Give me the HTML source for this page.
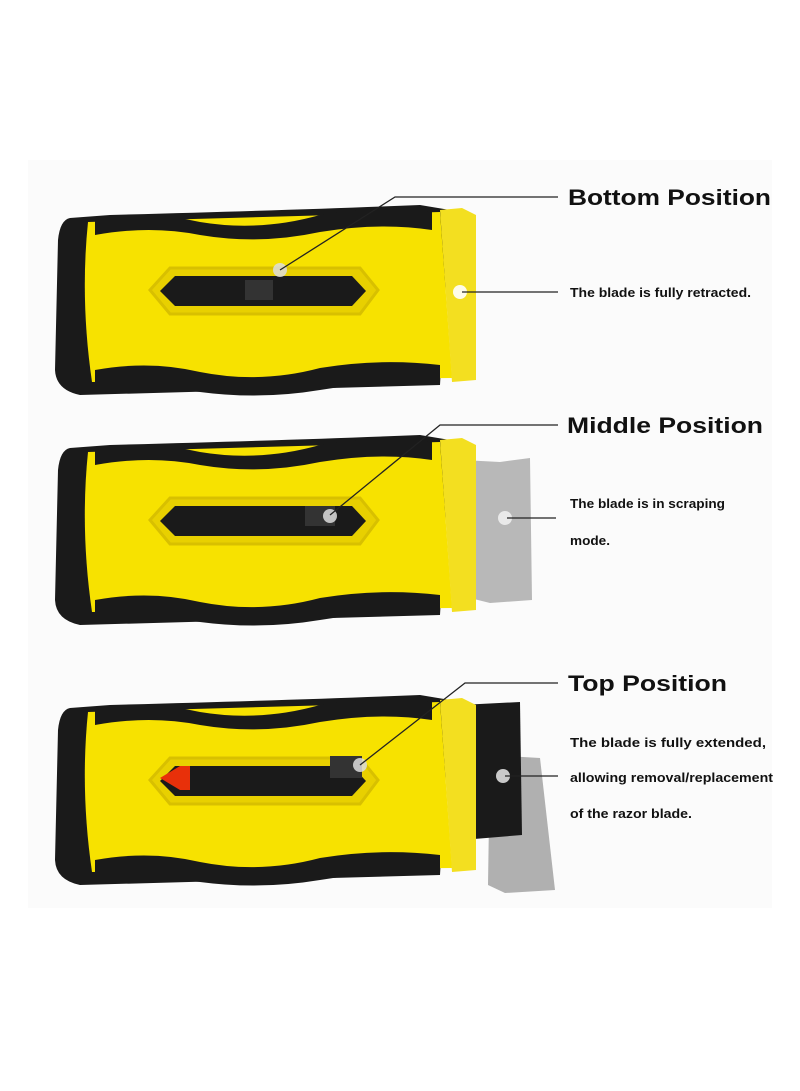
<!DOCTYPE html>
<html><head><meta charset="utf-8"><style>
html,body{margin:0;padding:0;background:#fff}
svg{display:block}
text{font-family:"Liberation Sans",sans-serif;font-weight:bold;fill:#111}
</style></head><body>
<svg width="800" height="1091" viewBox="0 0 800 1091" xmlns="http://www.w3.org/2000/svg">
<rect x="28" y="160" width="744" height="748" fill="#fbfbfb"/>
<defs>
<g id="body">
  <path d="M70 218 Q60 220 58 240 L55 370 Q56 390 80 395 L440 385 L450 210 L420 205 Q300 210 110 215 Z" fill="#1a1a1a"/>
  <path d="M88 222 L440 212 L452 378 L92 382 Q80 300 88 222 Z" fill="#f7e200"/>
  <path d="M95 220 Q150 210 200 222 Q260 232 320 215 Q380 205 432 212 L432 230 Q380 222 320 232 Q260 245 200 235 Q150 225 95 235 Z" fill="#1a1a1a"/>
  <path d="M95 370 Q150 360 200 372 Q260 384 320 368 Q380 358 440 365 L440 385 Q380 380 320 390 Q260 400 200 392 Q150 385 95 394 Z" fill="#1a1a1a"/>
  <path d="M150 290 L170 268 L360 268 L378 290 L360 314 L170 314 Z" fill="#e8d000" stroke="#d8c000" stroke-width="3"/>
  <path d="M160 291 L175 276 L352 276 L366 291 L352 306 L175 306 Z" fill="#1a1a1a"/>
</g>
</defs>
<use href="#body"/>
<path d="M440 210 L462 208 L476 215 L476 380 L452 382 Z" fill="#f3df20"/>
<rect x="245" y="280" width="28" height="20" fill="#333"/>
<circle cx="280" cy="270" r="7" fill="#ddd" opacity=".85"/>
<circle cx="460" cy="292" r="7" fill="#fff" opacity=".9"/>
<path d="M462 460 L500 462 L530 458 L532 600 L490 603 L462 596 Z" fill="#b8b8b8"/>
<g transform="translate(0,230)"><use href="#body"/></g>
<path d="M440 440 L462 438 L476 445 L476 610 L452 612 Z" fill="#f3df20"/>
<rect x="305" y="506" width="30" height="20" fill="#333"/>
<circle cx="330" cy="516" r="7" fill="#ddd" opacity=".85"/>
<circle cx="505" cy="518" r="7" fill="#eee" opacity=".9"/>
<path d="M490 755 L540 758 L555 890 L505 893 L488 885 Z" fill="#b0b0b0"/>
<path d="M460 705 L520 702 L522 835 L462 840 Z" fill="#1a1a1a"/>
<g transform="translate(0,490)"><use href="#body"/></g>
<path d="M440 700 L462 698 L476 705 L476 870 L452 872 Z" fill="#f3df20"/>
<path d="M160 778 L180 766 L190 766 L190 790 L180 790 Z" fill="#e8300a"/>
<rect x="330" y="756" width="32" height="22" fill="#333"/>
<circle cx="360" cy="765" r="7" fill="#ddd" opacity=".85"/>
<circle cx="503" cy="776" r="7" fill="#ddd" opacity=".9"/>
<g stroke="#222" stroke-width="1.3" fill="none">
<polyline points="558,197 395,197 280,270"/>
<line x1="462" y1="292" x2="558" y2="292"/>
<polyline points="558,425 440,425 330,515"/>
<line x1="507" y1="518" x2="556" y2="518"/>
<polyline points="558,683 465,683 360,765"/>
<line x1="505" y1="776" x2="558" y2="776"/>
</g>
<text x="568" y="205" font-size="22" textLength="203" lengthAdjust="spacingAndGlyphs">Bottom Position</text>
<text x="570" y="297" font-size="13" textLength="181" lengthAdjust="spacingAndGlyphs">The blade is fully retracted.</text>
<text x="567" y="433" font-size="22" textLength="196" lengthAdjust="spacingAndGlyphs">Middle Position</text>
<text x="570" y="508" font-size="13" textLength="155" lengthAdjust="spacingAndGlyphs">The blade is in scraping</text>
<text x="570" y="545" font-size="13" textLength="40" lengthAdjust="spacingAndGlyphs">mode.</text>
<text x="568" y="691" font-size="22" textLength="159" lengthAdjust="spacingAndGlyphs">Top Position</text>
<text x="570" y="747" font-size="13" textLength="196" lengthAdjust="spacingAndGlyphs">The blade is fully extended,</text>
<text x="570" y="782" font-size="13" textLength="203" lengthAdjust="spacingAndGlyphs">allowing removal/replacement</text>
<text x="570" y="818" font-size="13" textLength="122" lengthAdjust="spacingAndGlyphs">of the razor blade.</text>
</svg>
</body></html>
